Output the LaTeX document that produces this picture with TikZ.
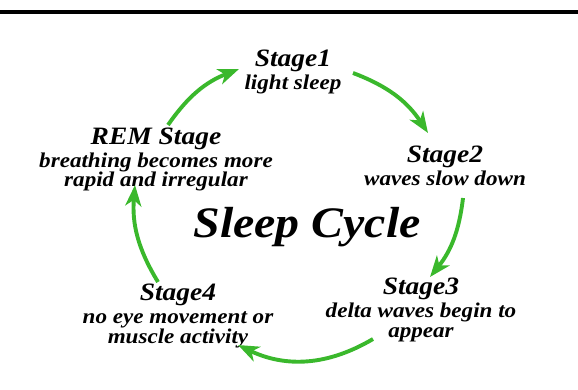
\documentclass[tikz,border=0pt]{standalone}
\usepackage{fontspec}
\newfontfamily\cyclefont[FakeStretch=1.1]{Liberation Serif}
\usetikzlibrary{arrows.meta}
\definecolor{cyclegreen}{RGB}{58,184,44}
\newcommand\stagehead[1]{{\fontsize{25}{20}\selectfont #1}\\[3pt]}
\setlength{\lineskiplimit}{-20pt}

\begin{document}
\begin{tikzpicture}[
x=1pt, y=1pt,
>={Stealth[length=21pt,width=16pt,inset=6pt]},
stagetext/.style={align=center, inner sep=0pt, anchor=base,
  font=\cyclefont\bfseries\itshape\fontsize{21}{20}\selectfont},
cyclearrow/.style={->, cyclegreen, line width=3.9pt}
]
\useasboundingbox (0,0) rectangle (578,389);

\draw[line width=4.5pt] (0,377) -- (578,377);

\node[stagetext] (s1) at (293,299)
{\stagehead{Stage1}light sleep};

\node[stagetext] (s2) at (445,204)
{\stagehead{Stage2}waves slow down};

\node[stagetext] (s3) at (421,52)
{\stagehead{Stage3}delta waves begin to\\appear};

\node[stagetext] (s4) at (178,46)
{\stagehead{Stage4}no eye movement or\\muscle activity};

\node[stagetext] (rem) at (156,202)
{\stagehead{REM Stage}breathing becomes more\\rapid and irregular};

\node[anchor=base, inner sep=0pt,
font=\cyclefont\bfseries\itshape\fontsize{43.5}{50}\selectfont] (title)
at (307,152) {Sleep Cycle};

\draw[cyclearrow] ([shift={(12,62)}]rem.base) to[bend left=17] ([shift={(-54,21)}]s1.base);
\draw[cyclearrow] ([shift={(60,17)}]s1.base) to[bend left=18] ([shift={(-17,52)}]s2.base);
\draw[cyclearrow] ([shift={(18,-13)}]s2.base) to[bend left=16] ([shift={(9,60)}]s3.base);
\draw[cyclearrow] ([shift={(-48,-2)}]s3.base) to[bend left=28] ([shift={(60,-2)}]s4.base);
\draw[cyclearrow] ([shift={(-20,61)}]s4.base) to[bend left=18] ([shift={(-21,2)}]rem.base);

\end{tikzpicture}
\end{document}
